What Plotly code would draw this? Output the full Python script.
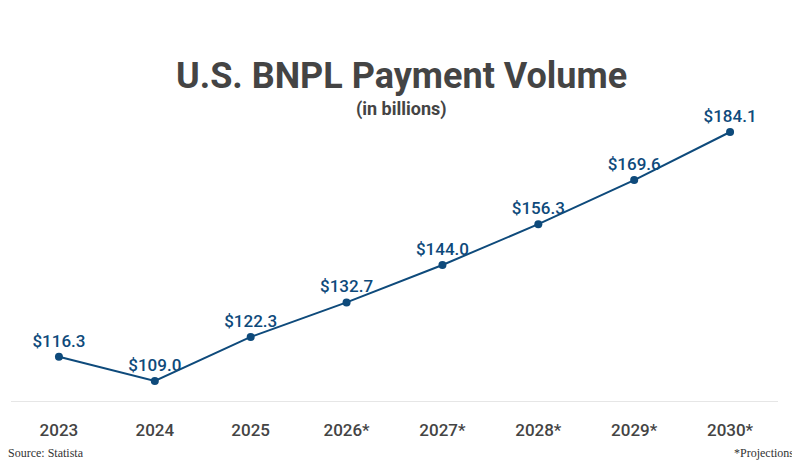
import plotly.graph_objects as go

years = ["2023", "2024", "2025", "2026*", "2027*", "2028*", "2029*", "2030*"]
volume = [116.3, 109.0, 122.3, 132.7, 144.0, 156.3, 169.6, 184.1]
labels = ["$%.1f" % v for v in volume]

blue = "#0e4a7b"
# page body has an 8px margin, so shift everything up/left
off = 7
L, R, T, B = 10 - off, 23 + off, 100 - off, 73 + off

fig = go.Figure(go.Scatter(
    x=years, y=volume, mode="lines+markers+text",
    text=labels, textposition="top center",
    textfont=dict(family="Roboto", size=17, color=blue, weight=500),
    line=dict(color=blue, width=2),
    marker=dict(color=blue, size=8),
    cliponaxis=False,
))

fig.update_layout(
    width=800, height=473,
    margin=dict(l=L, r=R, t=T, b=B),
    plot_bgcolor="white", paper_bgcolor="white",
    showlegend=False,
    xaxis=dict(range=[-0.5, 7.5], showgrid=False, showline=True,
               linecolor="#e6e6e6", ticks="", ticklabelstandoff=14,
               tickfont=dict(family="Roboto", size=17, color="#444", weight=500)),
    yaxis=dict(range=[102.97, 193.45], visible=False),
    annotations=[
        dict(text="<b>U.S. BNPL Payment Volume</b>", x=400, y=52, xref="paper", yref="paper",
             showarrow=False, font=dict(family="Roboto", size=36, color="#444")),
        dict(text="<b>(in billions)</b>", x=400, y=95, xref="paper", yref="paper",
             showarrow=False, font=dict(family="Roboto", size=18, color="#444")),
        dict(text="Source: Statista", x=5, y=461, xref="paper", yref="paper",
             xanchor="left", showarrow=False,
             font=dict(family="Liberation Serif", size=12, color="#333")),
        dict(text="*Projections", x=795, y=461, xref="paper", yref="paper",
             xanchor="right", showarrow=False,
             font=dict(family="Liberation Serif", size=12, color="#333")),
    ],
)

# convert pixel positions (in the reference) to paper coords
pw, ph = 800 - L - R, 473 - T - B
for a in fig.layout.annotations:
    a.x = (a.x - off - L) / pw
    a.y = (473 - B - (a.y - off)) / ph

fig.write_html("out.html")
